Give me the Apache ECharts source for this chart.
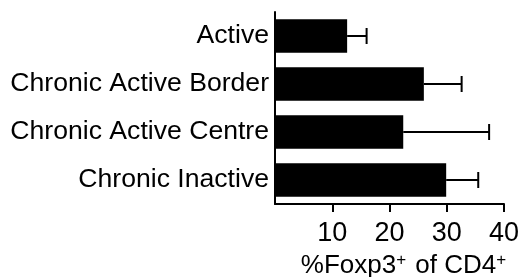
<!DOCTYPE html>
<html>
<head>
<meta charset="utf-8">
<script src="https://cdn.jsdelivr.net/npm/echarts@6/dist/echarts.min.js"></script>
<style>
  html, body { margin: 0; padding: 0; background: #fff; }
  #main { width: 523px; height: 277px; }
</style>
</head>
<body>
<div id="main"></div>
<script>
var categories = ['Active', 'Chronic Active Border', 'Chronic Active Centre', 'Chronic Inactive'];
var means = [12.6, 26.0, 22.4, 29.9];
var errors = [3.4, 6.6, 15.0, 5.6];
var xTicks = [10, 20, 30, 40];

var myChart = echarts.init(document.getElementById('main'));
var font = 'Liberation Sans, Arial, sans-serif';

// bar end -> bar end + error
var errData = categories.map(function (c, i) {
    return [i, means[i], means[i] + errors[i]];
});

var option = {
    animation: false,
    grid: {
        left: 275,
        right: 19,
        top: 12,
        bottom: 73,
        containLabel: false,
        outerBoundsMode: 'none'
    },
    xAxis: {
        type: 'value',
        position: 'bottom',
        min: 0,
        max: 40,
        interval: 10,
        name: '%Foxp3{sup|+} of CD4{sup|+}',
        nameLocation: 'middle',
        nameGap: 40,
        nameTextStyle: {
            color: '#000',
            fontFamily: font,
            fontSize: 26,
            padding: [0, 0, 0, 30],
            rich: {
                sup: { fontSize: 17, padding: [0, 2, 11, 0], fontFamily: font, color: '#000' }
            }
        },
        axisLine: { show: true, onZero: false, lineStyle: { color: '#000', width: 2 } },
        axisTick: { show: true, length: 8, lineStyle: { color: '#000', width: 2 }, customValues: xTicks },
        axisLabel: { color: '#000', fontFamily: font, fontSize: 27, margin: 16, customValues: xTicks },
        splitLine: { show: false }
    },
    yAxis: {
        type: 'category',
        inverse: true,
        data: categories,
        axisLine: { show: true, onZero: false, lineStyle: { color: '#000', width: 2 } },
        axisTick: { show: false },
        axisLabel: { color: '#000', fontFamily: font, fontSize: 26.6, margin: 6 }
    },
    series: [
        {
            type: 'bar',
            data: means,
            barWidth: '70%',
            itemStyle: { color: '#000' }
        },
        {
            type: 'custom',
            data: errData,
            encode: { y: 0, x: [1, 2] },
            renderItem: function (params, api) {
                var start = api.coord([api.value(1), api.value(0)]);
                var end = api.coord([api.value(2), api.value(0)]);
                var cap = 8;
                var style = { stroke: '#000', lineWidth: 2 };
                return {
                    type: 'group',
                    children: [
                        { type: 'line', shape: { x1: start[0], y1: start[1], x2: end[0], y2: end[1] }, style: style },
                        { type: 'line', shape: { x1: end[0], y1: end[1] - cap, x2: end[0], y2: end[1] + cap }, style: style }
                    ]
                };
            },
            z: 1
        }
    ]
};
myChart.setOption(option);
</script>
</body>
</html>
